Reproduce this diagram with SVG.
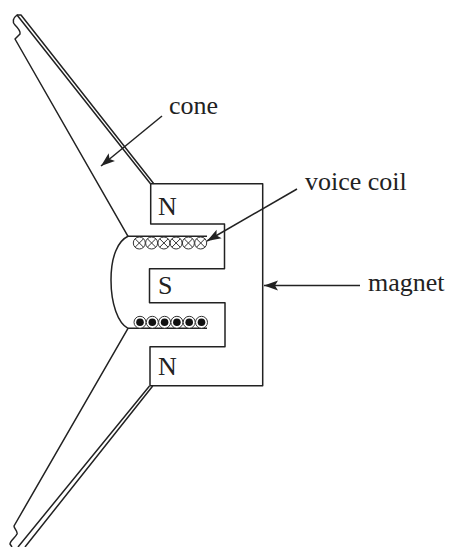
<svg xmlns="http://www.w3.org/2000/svg" width="449" height="547" viewBox="0 0 449 547">
<defs>
<marker id="head" markerUnits="userSpaceOnUse" markerWidth="16" markerHeight="12" refX="14" refY="5.500" orient="auto"><path d="M0 0.500L14 5.500L0 10.500L3 5.500Z" fill="#222"/></marker>
<g id="cross"><circle r="6"/><path d="M-4.200 -4.200L4.200 4.200M-4.200 4.200L4.200 -4.200"/></g>
<g id="dot"><circle r="6"/><circle r="3.800" fill="#111" stroke="none"/></g>
</defs>
<style>
.l{fill:none;stroke:#222;stroke-width:1.500;stroke-linejoin:round}
.c{fill:#fff;stroke:#333;stroke-width:1}
text{font-family:"Liberation Serif","Times New Roman",serif;font-size:26px;fill:#222}
</style>
<rect width="449" height="547" fill="#fff"/>
<g id="magnet">
<path class="l" d="M150.700 183.700H262.700V385.700H150V346.700H225V302.700H149.500V268.700H224.500V224H150.700Z"/>
<text x="158" y="215">N</text><text x="158" y="294">S</text><text x="158" y="375">N</text>
</g>
<g id="cone">
<path class="l" d="M128 236.300C118 241 111 256 111 280C111 304 118 323 128 328.300"/>
<path class="l" d="M150.500 183.700L17 15C13 18 12 22 15 25C18 28 21 31 20 34L15 39L128 236.300"/>
<path class="l" d="M153.800 183.700L21 15L17 15"/>
<path class="l" d="M128 328.300L14 526C14 529 18 531 17 534C15 538 10 541 10 544L12 547"/>
<path class="l" d="M149.500 386L18 547M152.700 386L25 547"/>
</g>
<g id="voice-coil">
<path class="l" d="M128 236.300H207M128 328.300H207"/>
<use href="#cross" class="c" x="139.300" y="243"/><use href="#cross" class="c" x="151.600" y="243"/><use href="#cross" class="c" x="163.900" y="243"/><use href="#cross" class="c" x="176.100" y="243"/><use href="#cross" class="c" x="188.400" y="243"/><use href="#cross" class="c" x="200.700" y="243"/>
<use href="#dot" class="c" x="140" y="322.300"/><use href="#dot" class="c" x="152.300" y="322.300"/><use href="#dot" class="c" x="164.600" y="322.300"/><use href="#dot" class="c" x="176.900" y="322.300"/><use href="#dot" class="c" x="189.200" y="322.300"/><use href="#dot" class="c" x="201.500" y="322.300"/>
</g>
<g id="connectors">
<path class="l" d="M162 116L101 166" marker-end="url(#head)"/>
<path class="l" d="M297 189L207 241" marker-end="url(#head)"/>
<path class="l" d="M360 285.500H264" marker-end="url(#head)"/>
</g>
<g id="labels">
<text x="169" y="114">cone</text>
<text x="305" y="189.500">voice coil</text>
<text x="368" y="291">magnet</text>
</g>
</svg>
